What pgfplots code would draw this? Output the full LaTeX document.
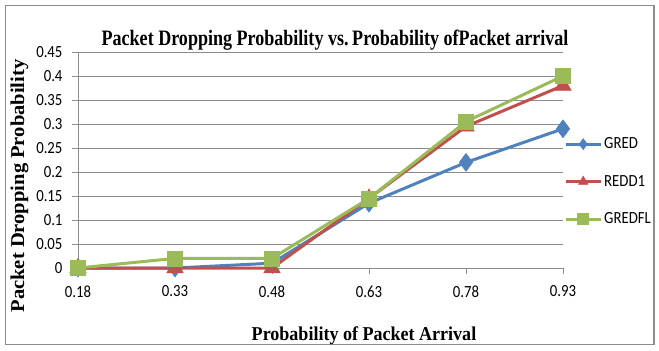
\documentclass[border=0pt]{standalone}
\usepackage{fontspec}
\setmainfont{Carlito}[FakeStretch=0.87]
\newfontfamily\serifbold{Liberation Serif}[FakeStretch=0.82]
\newfontfamily\xlabfont{Liberation Serif}[FakeStretch=0.92]
\newfontfamily\ylabfont{Liberation Serif}[FakeStretch=1.05]
\usepackage{pgfplots}
\pgfplotsset{compat=1.18}
\definecolor{gblue}{HTML}{4F81BD}
\definecolor{gred}{HTML}{C0504D}
\definecolor{ggreen}{HTML}{9BBB59}
\definecolor{gridgray}{HTML}{8C8C8C}
\begin{document}
\begin{tikzpicture}[x=1bp,y=1bp]
\useasboundingbox (0,0) rectangle (659,350);
\draw[gridgray, line width=1.2bp] (5.5,5.5) rectangle (654,344.5);
\begin{axis}[
  at={(78bp,82bp)}, anchor=south west,
  width=485bp, height=216bp, scale only axis,
  xmin=0, xmax=5, ymin=0, ymax=0.45,
  clip=false,
  xtick={0,1,2,3,4,5},
  xticklabels={0.18,0.33,0.48,0.63,0.78,0.93},
  ytick={0,0.05,0.1,0.15,0.2,0.25,0.3,0.35,0.4,0.45},
  yticklabels={0,0.05,0.1,0.15,0.2,0.25,0.3,0.35,0.4,0.45},
  ymajorgrids,
  major grid style={gridgray, line width=0.9bp},
  axis x line*=bottom, axis y line*=left,
  axis line style={gridgray, line width=0.9bp, -},
  tick align=outside,
  major tick length=6bp,
  tick style={gridgray, line width=0.9bp},
  /pgf/number format/assume math mode=true,
  tick label style={font=\fontsize{17bp}{20bp}\selectfont, text=black},
  xticklabel style={yshift=-8bp},
  yticklabel style={xshift=-6bp},
  legend style={at={(1.0,0.40)}, anchor=west, draw=none, fill=none,
    font=\fontsize{17bp}{20bp}\selectfont, row sep=21bp, inner sep=1bp,
    cells={anchor=west}},
  legend image code/.code={
    \draw[#1, mark=none] (0bp,0bp) -- (35bp,0bp);
    \draw[#1, mark size=5.5bp, draw=none] plot coordinates {(17.5bp,0bp)};
  },
]
\addplot[gblue, line width=3bp, mark=diamond*, mark size=9bp,
  mark options={fill=gblue, draw=gblue, line width=0.5bp}]
  coordinates {(0,0) (1,0) (2,0.01) (3,0.135) (4,0.22) (5,0.29)};
\addlegendentry{GRED}
\addplot[gred, line width=3bp, mark=triangle*, mark size=9.5bp,
  mark options={fill=gred, draw=gred, line width=0.5bp}]
  coordinates {(0,0) (1,0) (2,0) (3,0.145) (4,0.295) (5,0.38)};
\addlegendentry{REDD1}
\addplot[ggreen, line width=3bp, mark=square*, mark size=7.5bp,
  mark options={fill=ggreen, draw=ggreen, line width=0.5bp}]
  coordinates {(0,0) (1,0.02) (2,0.02) (3,0.145) (4,0.305) (5,0.40)};
\addlegendentry{GREDFL}
\end{axis}
\node[anchor=base, font=\serifbold\bfseries\fontsize{22bp}{26bp}\selectfont] at (335,305) {Packet Dropping Probability vs.\,Probability ofPacket arrival};
\node[anchor=base, font=\xlabfont\bfseries\fontsize{19.6bp}{23bp}\selectfont] at (364,10) {Probability of Packet Arrival};
\node[anchor=base, rotate=90, font=\ylabfont\bfseries\fontsize{19.6bp}{23bp}\selectfont] at (24,164) {Packet Dropping Probability};
\end{tikzpicture}
\end{document}
